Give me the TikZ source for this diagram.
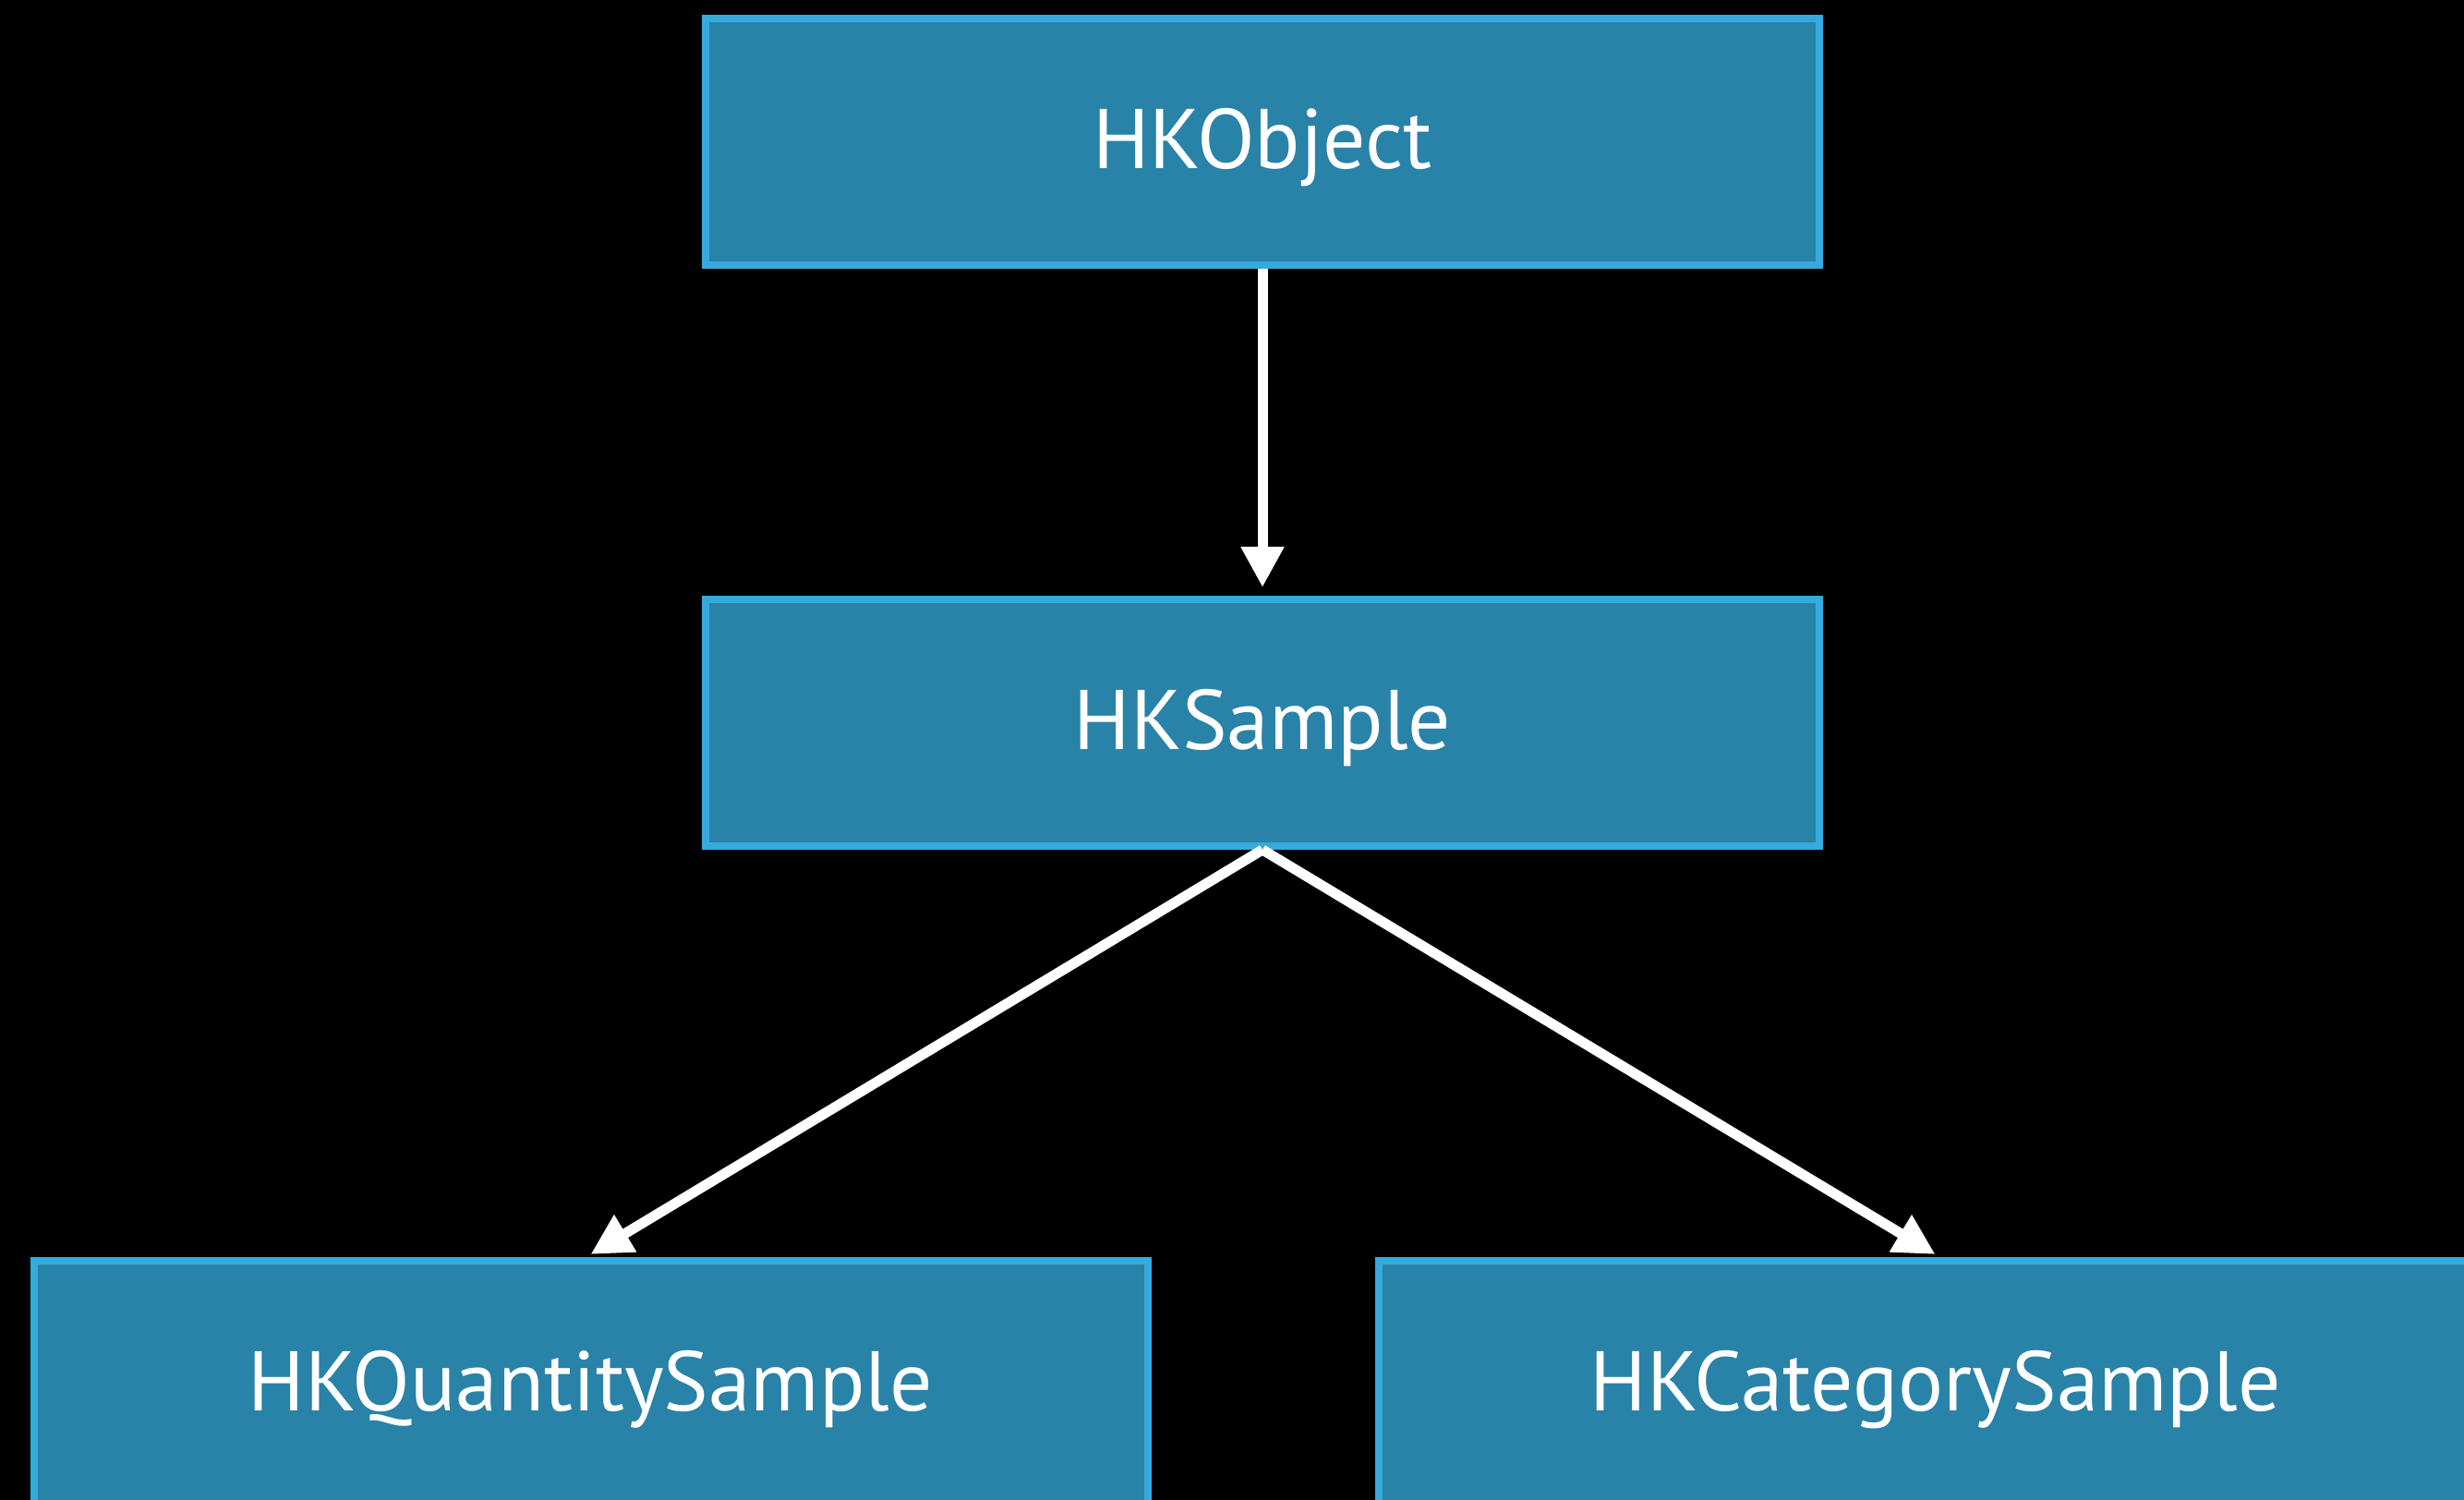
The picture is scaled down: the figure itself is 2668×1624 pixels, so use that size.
\documentclass[tikz,border=0pt]{standalone}
\usepackage{fontspec}
\setmainfont{PT Sans}
\usetikzlibrary{arrows.meta}
\definecolor{boxfill}{RGB}{41,130,167}
\definecolor{boxedge}{RGB}{52,170,222}
\begin{document}
\begin{tikzpicture}[x=0.25pt,y=-0.25pt,
  cls/.style={draw=boxedge, fill=boxfill, line width=2pt,
    minimum width=301.5pt, minimum height=66.75pt, inner sep=0pt,
    text=white, font=\fontsize{22.9}{27}\selectfont,
    text height=14.6pt, text depth=0pt},
  inh/.style={draw=white, line width=2.75pt,
    -{Triangle[length=11pt,width=11pt]}}]
\useasboundingbox (0,0) rectangle (2668,1624);
\clip (0,0) rectangle (2668,1624);
\fill[black] (0,0) rectangle (2668,1624);
\node[cls] (obj) at (1367,153.5) {HKObject};
\node[cls] (smp) at (1367,782.5) {HKSample};
\node[cls] (qty) at (639.5,1498.5) {HKQuantitySample};
\node[cls] (cat) at (2095.5,1498.5) {HKCategorySample};
\draw[inh] (obj.south) -- ([yshift=2.25pt]smp.north);
\draw[inh] (smp.south) -- ([yshift=0.75pt]qty.north);
\draw[inh] (smp.south) -- ([yshift=0.75pt]cat.north);
\end{tikzpicture}
\end{document}
